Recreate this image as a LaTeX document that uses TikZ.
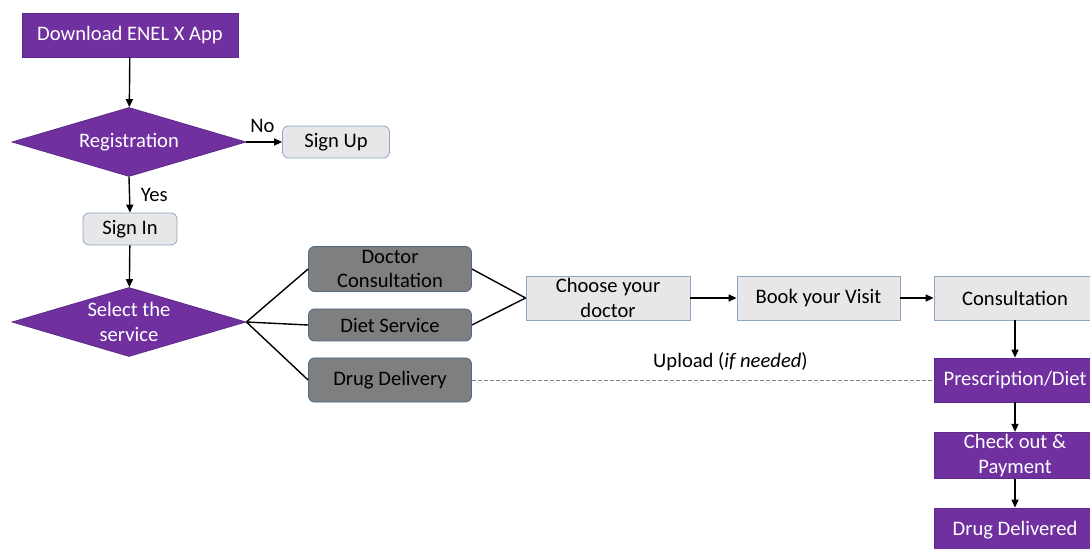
\documentclass[tikz,border=0pt]{standalone}
\usepackage{fontspec}
\setmainfont{Carlito}
\usetikzlibrary{arrows.meta,shapes.geometric}
\definecolor{appPurple}{HTML}{7030A0}
\definecolor{appPurpleEdge}{HTML}{5E2A88}
\definecolor{lightFill}{HTML}{E7E6E8}
\definecolor{lightEdge}{HTML}{8FA6BF}
\definecolor{darkFill}{HTML}{7F7F7F}
\definecolor{darkEdge}{HTML}{4A6A8A}

\begin{document}
\begin{tikzpicture}[x=0.5pt,y=-0.5pt,font=\fontsize{10.3}{12.4}\selectfont,
  purplebox/.style={rectangle,draw=appPurpleEdge,fill=appPurple,text=white,align=center,
    minimum width=81pt,minimum height=22pt,inner sep=1pt},
  purplediamond/.style={diamond,draw=appPurpleEdge,fill=appPurple,text=white,align=center,
    minimum width=117pt,minimum height=34.5pt,inner sep=0pt,aspect=3.4},
  lightbox/.style={rectangle,draw=lightEdge,fill=lightFill,align=center,
    minimum width=82pt,minimum height=22pt,inner sep=1pt},
  darkbox/.style={rectangle,rounded corners=3pt,draw=darkEdge,fill=darkFill,align=center,
    minimum width=81.5pt,minimum height=22pt,inner sep=1pt},
  flow/.style={-{Triangle[length=4pt,width=3.5pt]},line width=0.7pt},
  link/.style={line width=0.7pt}]
\useasboundingbox (0,0) rectangle (1090,549);

\node[purplebox,minimum width=108pt] (download) at (130,35) {Download ENEL X App};
\node[purplediamond] (registration) at (129,142) {Registration};
\node[lightbox,rounded corners=3pt,minimum width=53.5pt,minimum height=16pt] (signup) at (336,142) {Sign Up};
\node[lightbox,rounded corners=3pt,minimum width=47pt,minimum height=16pt] (signin) at (130,229) {Sign In};
\node[purplediamond] (select) at (129,322) {Select the\\service};

\node[darkbox,minimum height=22.5pt] (doctor) at (390,269) {Doctor\\Consultation};
\node[darkbox,minimum height=16pt] (diet) at (390,325) {Diet Service};
\node[darkbox] (drug) at (390,380) {Drug Delivery};

\node[lightbox] (choose) at (608,298) {Choose your\\doctor};
\node[lightbox,minimum width=81.5pt] (book) at (818.5,298) {Book your Visit};
\node[lightbox,minimum width=81pt] (consult) at (1015,298) {Consultation};
\node[purplebox] (prescription) at (1015,380) {Prescription/Diet};
\node[purplebox,minimum height=22.5pt] (checkout) at (1015,455.5) {Check out \&\\Payment};
\node[purplebox] (delivered) at (1015,530) {Drug Delivered};

\draw[flow] (download) -- (registration);
\draw[flow] (registration.east) -- (signup.west) node[pos=0.45,above=1pt] (no) {No};
\draw[flow] (registration.south) -- (signin.north) node[midway,right=2pt] (yes) {Yes};
\draw[flow] (signin) -- (select);

\draw[link] (select.east) -- (doctor.west);
\draw[link] (select.east) -- (diet.west);
\draw[link] (select.east) -- (drug.west);
\draw[link] (doctor.east) -- (choose.west);
\draw[link] (diet.east) -- (choose.west);

\draw[flow] (choose) -- (book);
\draw[flow] (book) -- (consult);
\draw[flow] (consult) -- (prescription);
\draw[flow] (prescription) -- (checkout);
\draw[flow] (checkout) -- (delivered);

\draw[gray,dashed,line width=0.4pt,dash pattern=on 2pt off 1pt] (drug.east) -- (prescription.west)
  node[pos=0.56,above=1pt,text=black] (upload) {Upload (\textit{if needed})};
\end{tikzpicture}
\end{document}
